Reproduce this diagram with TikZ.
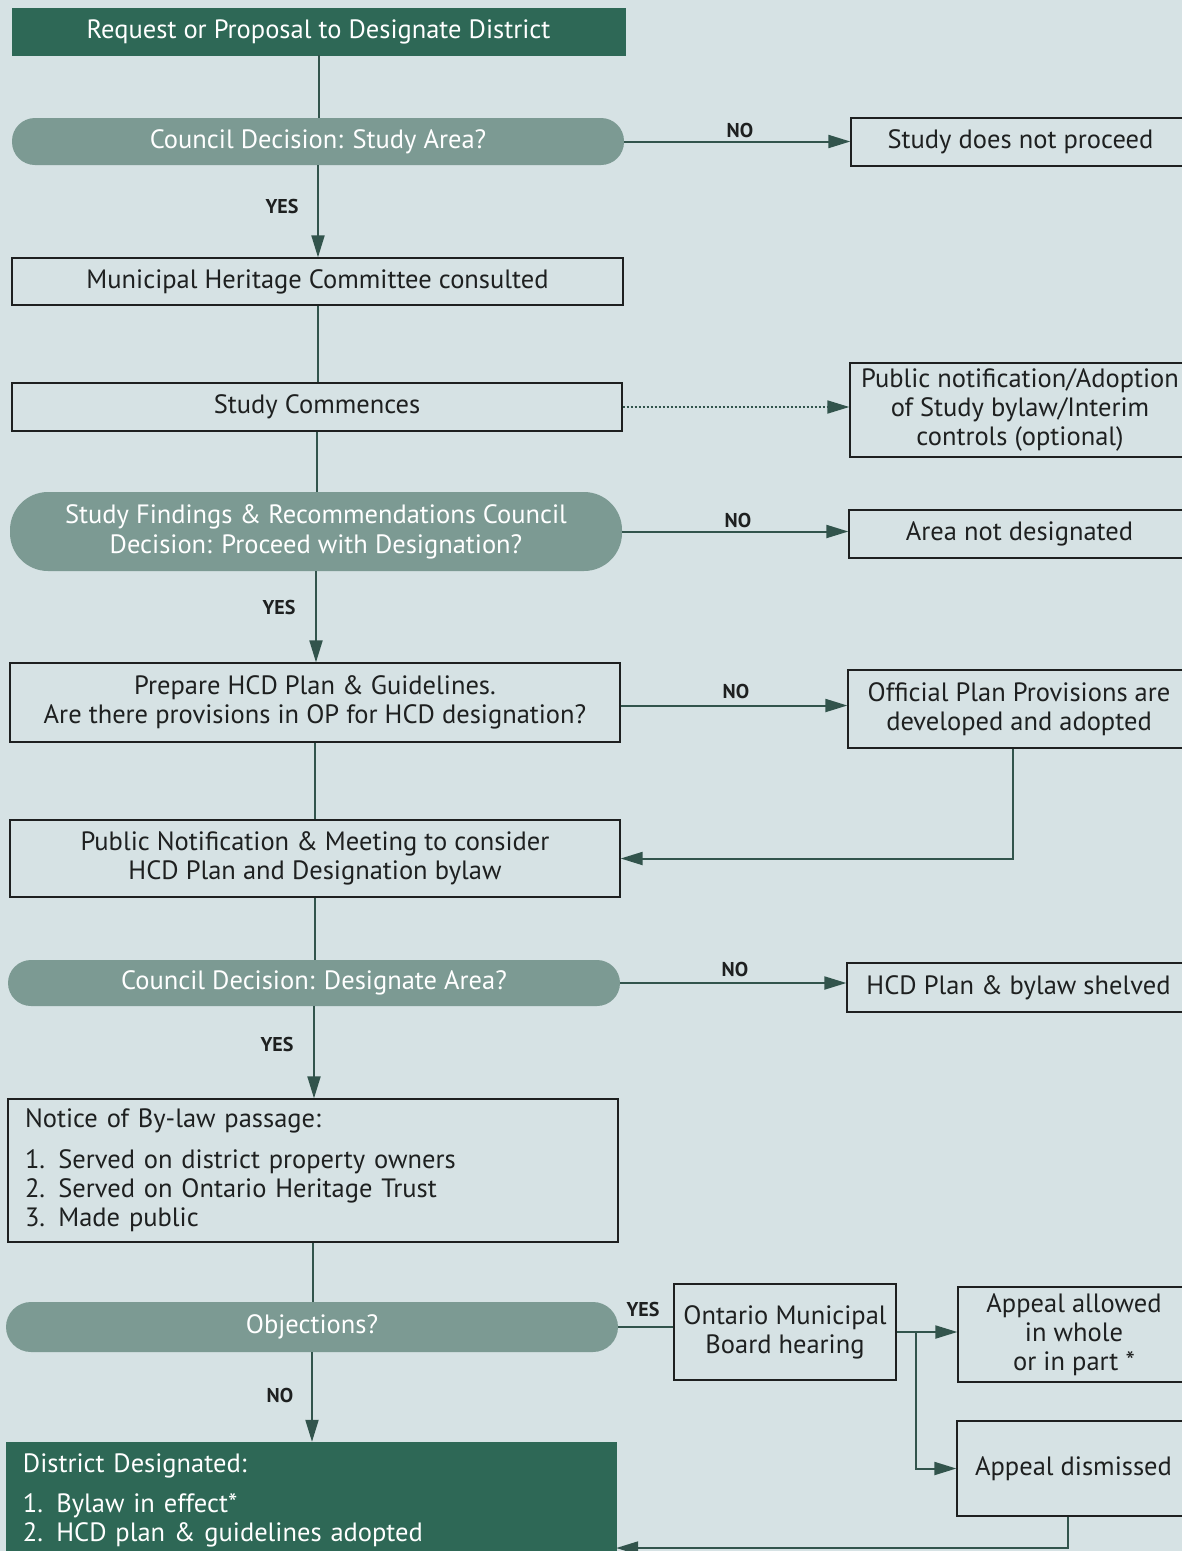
\documentclass[tikz,border=0pt]{standalone}
\usepackage{fontspec}
\setmainfont{PT Sans}
\usetikzlibrary{arrows.meta,calc}
\definecolor{bg}{RGB}{214,226,228}
\definecolor{dkg}{RGB}{46,104,86}
\definecolor{pillc}{RGB}{124,154,147}
\definecolor{conn}{RGB}{50,84,76}
\definecolor{ink}{RGB}{30,32,32}
\begin{document}
\begin{tikzpicture}[x=1pt,y=-1pt,
  box/.style={draw=ink,line width=1.3pt,inner sep=0pt,align=center,text=ink,
    font=\fontsize{26.5}{29}\selectfont},
  darkbox/.style={fill=dkg,draw=dkg,inner sep=0pt,align=center,text=white,
    font=\fontsize{26.5}{29}\selectfont},
  pillbox/.style={fill=pillc,draw=none,inner sep=0pt,align=center,text=white,
    font=\fontsize{26.5}{30}\selectfont},
  lbl/.style={font=\fontsize{20}{22}\selectfont\bfseries,text=ink},
  line/.style={draw=conn,line width=2pt},
  arrow/.style={line,-{Triangle[length=22pt,width=13pt]}},
]
\useasboundingbox (0,0) rectangle (1182,1551);
\clip (0,0) rectangle (1182,1551);
\fill[bg] (0,0) rectangle (1182,1551);

% main column
\node[darkbox,minimum width=613pt,minimum height=47pt] (top) at (318.5,31.5) {Request or Proposal to Designate District};
\node[pillbox,rounded corners=23pt,minimum width=612pt,minimum height=47pt] (p1) at (318,141.5) {Council Decision: Study Area?};
\node[box,minimum width=611pt,minimum height=47pt] (mhc) at (317.5,281.5) {Municipal Heritage Committee consulted};
\node[box,minimum width=610pt,minimum height=48pt] (sc) at (317,407) {Study Commences};
\node[pillbox,rounded corners=38pt,minimum width=612pt,minimum height=79pt] (p2) at (316,531.5) {Study Findings \& Recommendations Council\\Decision: Proceed with Designation?};
\node[box,minimum width=610pt,minimum height=79pt] (prep) at (315,702.5) {Prepare HCD Plan \& Guidelines.\\Are there provisions in OP for HCD designation?};
\node[box,minimum width=610pt,minimum height=77pt] (pubn) at (315,858.5) {Public Notification \& Meeting to consider\\HCD Plan and Designation bylaw};
\node[pillbox,rounded corners=23pt,minimum width=612pt,minimum height=46pt] (p3) at (314,983) {Council Decision: Designate Area?};
\node[box,minimum width=610pt,minimum height=143pt,align=left,text width=576pt] (notice) at (313,1170.5) {Notice of By-law passage:\\[12pt]1. Served on district property owners\\2. Served on Ontario Heritage Trust\\3. Made public};
\node[pillbox,rounded corners=25pt,minimum width=612pt,minimum height=50pt] (p4) at (312,1327) {Objections?};
\node[darkbox,minimum width=610pt,minimum height=116pt,align=left,text width=576pt] (dd) at (311,1500) {District Designated:\\[11pt]1. Bylaw in effect*\\2. HCD plan \& guidelines adopted};

% right column
\node[box,minimum width=339pt,minimum height=48pt] (sdp) at (1020.5,142) {Study does not proceed};
\node[box,minimum width=340pt,minimum height=94pt] (pub) at (1020,410) {Public notification/Adoption\\of Study bylaw/Interim\\controls (optional)};
\node[box,minimum width=341pt,minimum height=48pt] (and) at (1019.5,534) {Area not designated};
\node[box,minimum width=342pt,minimum height=78pt] (opp) at (1019,709) {Official Plan Provisions are\\developed and adopted};
\node[box,minimum width=343pt,minimum height=49pt] (shelf) at (1018.5,987.5) {HCD Plan \& bylaw shelved};
\node[box,minimum width=222pt,minimum height=96pt] (omb) at (785,1332) {Ontario Municipal\\Board hearing};
\node[box,minimum width=232pt,minimum height=95pt] (aa) at (1074,1334.5) {Appeal allowed\\in whole\\or in part *};
\node[box,minimum width=233pt,minimum height=95pt] (ad) at (1073.5,1468.5) {Appeal dismissed};

% vertical flow
\draw[line] (top.south) -- (top.south |- p1.north);
\draw[arrow] (p1.south) -- (p1.south |- mhc.north);
\draw[line] (mhc.south) -- (mhc.south |- sc.north);
\draw[line] (sc.south) -- (sc.south |- p2.north);
\draw[arrow] (p2.south) -- (p2.south |- prep.north);
\draw[line] (prep.south) -- (prep.south |- pubn.north);
\draw[line] (pubn.south) -- (pubn.south |- p3.north);
\draw[arrow] (p3.south) -- (p3.south |- notice.north);
\draw[line] (notice.south) -- (notice.south |- p4.north);
\draw[arrow] (p4.south) -- (p4.south |- dd.north);

% side branches
\draw[arrow] (p1.east) -- (p1.east -| sdp.west);
\draw[arrow,dotted,line width=1.8pt] (sc.east) -- (sc.east -| pub.west);
\draw[arrow] (p2.east) -- (p2.east -| and.west);
\draw[arrow] ([yshift=-3pt]prep.east) -- ([yshift=-3pt]prep.east -| opp.west);
\draw[arrow] ([xshift=-6pt]opp.south) |- (pubn.east);
\draw[arrow] (p3.east) -- (p3.east -| shelf.west);
\draw[line] (p4.east) -- (p4.east -| omb.west);
\coordinate (br) at ($(omb.east)+(19,0)$);
\draw[line] (omb.east) -- (br);
\draw[arrow] (br) -- (br -| aa.west);
\draw[arrow] (br) |- (ad.west);
\draw[arrow] ([xshift=-6pt]ad.south) |- ($(dd.east)+(0,48)$);

% labels
\node[lbl] (n1) at (740,130) {NO};
\node[lbl] (y1) at (282,206) {YES};
\node[lbl] (n2) at (738,520) {NO};
\node[lbl] (y2) at (279,607) {YES};
\node[lbl] (n3) at (736,691) {NO};
\node[lbl] (n4) at (735,969) {NO};
\node[lbl] (y3) at (277,1044) {YES};
\node[lbl] (y4) at (643,1309) {YES};
\node[lbl] (n5) at (280,1395) {NO};
\end{tikzpicture}
\end{document}
